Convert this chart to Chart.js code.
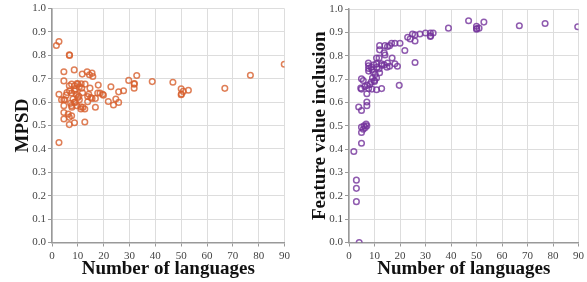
<!DOCTYPE html>
<html>
<head>
<meta charset="utf-8">
<script src="https://cdn.jsdelivr.net/npm/chart.js@4.4.0/dist/chart.umd.min.js"></script>
<style>
  html, body { margin: 0; padding: 0; background: #fff; }
  #wrap { position: relative; width: 587px; height: 282px; }
  canvas { position: absolute; top: 0; }
  #left { left: 0; }
  #right { left: 293px; }
</style>
</head>
<body>
<div id="wrap">
  <canvas id="left" width="293" height="282"></canvas>
  <canvas id="right" width="294" height="282"></canvas>
</div>
<script>
// x ticks and y ticks shared by both panels
const xTicks = [0, 10, 20, 30, 40, 50, 60, 70, 80, 90];
const yTicks = [0, 0.1, 0.2, 0.3, 0.4, 0.5, 0.6, 0.7, 0.8, 0.9, 1.0];

// left panel: MPSD by number of languages
const mpsdLangs = [1.7, 2.7, 6.7, 6.8, 4.6, 8.6, 4.6, 11.7, 13.6, 14.5, 15.5, 15.8,
  2.7, 3.7, 4.6, 5.0, 4.6, 4.6, 4.6, 6.7, 8.7, 12.7, 6.7, 7.6, 6.3,
  6.7, 7.6, 8.7, 10.0, 10.6, 11.5, 12.8, 14.7, 17.9, 11.3, 9.7,
  5.8, 5.5, 6.8, 7.6, 8.7, 9.4, 8.1, 10.6, 10.0, 8.7, 7.6, 7.7, 9.6, 11.2, 12.0, 12.7, 11.2,
  13.8, 14.2, 13.8, 15.0, 15.5, 16.8, 16.8, 17.7, 18.6, 19.6, 19.9,
  21.8, 22.8, 23.8, 24.7, 25.8, 25.8, 27.7, 29.7, 31.8, 31.9, 31.8, 32.8,
  38.8, 46.8, 50.0, 50.0, 50.1, 50.8, 52.8, 66.9, 76.8, 89.9, 2.7,
  9.2, 10.4, 7.2, 9.0, 11.8];
const mpsdValues = [0.842, 0.859, 0.802, 0.800, 0.730, 0.738, 0.691, 0.720, 0.730, 0.717, 0.724, 0.710,
  0.634, 0.610, 0.610, 0.610, 0.585, 0.556, 0.528, 0.504, 0.512, 0.515, 0.535, 0.542, 0.549,
  0.670, 0.677, 0.670, 0.677, 0.666, 0.660, 0.677, 0.660, 0.673, 0.679, 0.680,
  0.641, 0.630, 0.649, 0.639, 0.649, 0.634, 0.613, 0.610, 0.620, 0.599, 0.585, 0.578, 0.585, 0.580, 0.578, 0.571, 0.571,
  0.624, 0.634, 0.602, 0.620, 0.616, 0.616, 0.578, 0.639, 0.639, 0.634, 0.630,
  0.603, 0.666, 0.588, 0.613, 0.599, 0.644, 0.649, 0.693, 0.677, 0.680, 0.660, 0.714,
  0.688, 0.685, 0.657, 0.632, 0.635, 0.646, 0.651, 0.659, 0.715, 0.762, 0.427,
  0.655, 0.625, 0.595, 0.600, 0.640];

// right panel: feature value inclusion by number of languages
const fviLangs = [3.8, 4.9, 7.0, 7.0, 4.9, 5.6, 4.6, 4.9, 7.0, 6.2, 7.2, 7.7, 8.2, 9.0, 8.7, 9.2,
  10.0, 10.0, 10.8, 10.8, 12.8, 7.6, 7.7, 7.7, 7.7, 8.7, 9.0, 9.5, 10.3, 9.8, 10.8, 10.8,
  11.8, 11.0, 11.8, 12.0, 12.8, 13.8, 14.1, 13.8, 12.8, 15.1, 14.9, 15.9, 16.9, 18.0, 19.0,
  12.0, 12.0, 14.1, 15.1, 15.9, 16.7, 18.0, 20.0, 21.9, 19.7,
  23.0, 24.0, 24.9, 25.9, 25.9, 25.9, 27.8, 30.0, 31.9, 33.0, 31.9, 32.0,
  39.0, 46.9, 50.0, 50.0, 50.1, 51.0, 52.9, 66.8, 76.9, 89.7,
  4.9, 4.9, 1.9, 2.9, 2.9, 2.9, 4.0, 5.9, 7.0, 6.7, 5.6, 4.9, 6.4];
const fviValues = [0.580, 0.565, 0.602, 0.586, 0.701, 0.694, 0.661, 0.657, 0.637, 0.668, 0.673, 0.659, 0.677, 0.657, 0.687, 0.704,
  0.694, 0.690, 0.705, 0.654, 0.659, 0.768, 0.757, 0.745, 0.734, 0.751, 0.741, 0.730, 0.720, 0.761, 0.765, 0.790,
  0.790, 0.751, 0.744, 0.727, 0.758, 0.761, 0.803, 0.812, 0.765, 0.769, 0.751, 0.755, 0.790, 0.765, 0.755,
  0.825, 0.843, 0.843, 0.839, 0.843, 0.853, 0.853, 0.853, 0.822, 0.673,
  0.879, 0.872, 0.893, 0.889, 0.863, 0.771, 0.893, 0.897, 0.897, 0.897, 0.882, 0.885,
  0.918, 0.950, 0.926, 0.913, 0.916, 0.918, 0.944, 0.928, 0.938, 0.924,
  0.471, 0.425, 0.390, 0.267, 0.232, 0.175, 0.000, 0.500, 0.500, 0.507, 0.485, 0.494, 0.492];

const serif = '"Liberation Serif", "DejaVu Serif", serif';

function toPoints(xs, ys) {
    return xs.map((x, i) => ({ x: x, y: ys[i] }));
}

function makeChart(canvas, points, color, yTitle, yWidth, titlePad, pad) {
    return new Chart(canvas, {
        type: 'scatter',
        data: {
            datasets: [{
                data: points,
                borderColor: color,
                backgroundColor: 'rgba(0,0,0,0)',
                borderWidth: 1.5,
                pointRadius: 2.8,
            }]
        },
        options: {
            responsive: false,
            animation: false,
            layout: { padding: pad },
            plugins: { legend: { display: false }, tooltip: { enabled: false } },
            scales: {
                x: {
                    type: 'linear',
                    min: 0, max: 90,
                    afterBuildTicks: (s) => { s.ticks = xTicks.map(v => ({ value: v })); },
                    afterFit: (s) => { s.height = 39.5; },
                    ticks: { color: '#444', font: { family: serif, size: 11 }, padding: 3 },
                    grid: { color: '#dddddd', tickLength: 4, tickColor: '#999' },
                    border: { color: '#999', width: 1.5 },
                    title: { display: true, text: 'Number of languages', color: '#111',
                        font: { family: serif, size: 19, weight: 'bold' }, padding: { top: 0, bottom: 2 } }
                },
                y: {
                    type: 'linear',
                    min: 0, max: 1,
                    afterBuildTicks: (s) => { s.ticks = yTicks.map(v => ({ value: v })); },
                    afterFit: (s) => { s.width = yWidth; },
                    ticks: { color: '#444', font: { family: serif, size: 11 }, padding: 2,
                        callback: (v) => v.toFixed(1) },
                    grid: { color: '#dddddd', tickLength: 4, tickColor: '#999' },
                    border: { color: '#999', width: 1.5 },
                    title: { display: true, text: yTitle, color: '#111',
                        font: { family: serif, size: 19, weight: 'bold' }, padding: { top: titlePad, bottom: 0 } }
                }
            }
        }
    });
}

makeChart(document.getElementById('left'), toPoints(mpsdLangs, mpsdValues),
    'rgba(215, 95, 45, 0.8)', 'MPSD', 52, 12, { top: 8, right: 7, left: 0, bottom: 0 });
makeChart(document.getElementById('right'), toPoints(fviLangs, fviValues),
    'rgba(115, 50, 155, 0.8)', 'Feature value inclusion', 56, 16, { top: 9, right: 4, left: 0, bottom: 0 });
</script>
</body>
</html>
